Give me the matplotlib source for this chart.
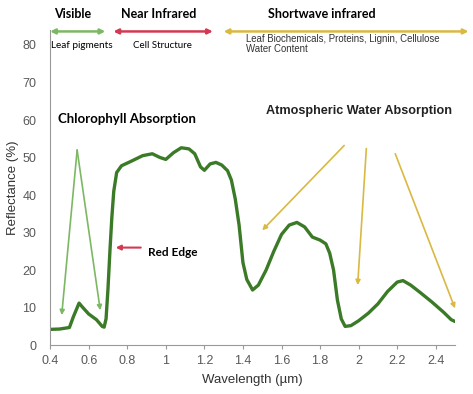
import numpy as np
import matplotlib
matplotlib.use('Agg')
import matplotlib.pyplot as plt

# vegetation reflectance curve
wavelength = [0.40, 0.45, 0.50, 0.52, 0.55, 0.57, 0.60, 0.64, 0.67, 0.68, 0.69,
              0.70, 0.71, 0.72, 0.73, 0.745, 0.77, 0.82, 0.88, 0.93, 0.97, 1.00,
              1.04, 1.08, 1.12, 1.15, 1.18, 1.20, 1.23, 1.26, 1.29, 1.32, 1.34,
              1.36, 1.38, 1.40, 1.42, 1.45, 1.48, 1.52, 1.56, 1.60, 1.64, 1.68,
              1.72, 1.76, 1.80, 1.83, 1.85, 1.87, 1.89, 1.91, 1.93, 1.96, 2.00,
              2.05, 2.10, 2.15, 2.20, 2.23, 2.27, 2.32, 2.38, 2.44, 2.48, 2.50]
reflectance = [4.2, 4.3, 4.7, 7.5, 11.2, 10.0, 8.3, 6.8, 5.0, 4.8, 7.0,
               15.0, 25.0, 34.0, 41.0, 46.0, 47.8, 49.0, 50.5, 51.0, 50.0, 49.5,
               51.3, 52.6, 52.3, 51.0, 47.5, 46.6, 48.3, 48.7, 48.0, 46.5, 44.0,
               39.0, 32.0, 22.0, 17.5, 14.7, 16.0, 20.0, 25.0, 29.5, 32.0, 32.7,
               31.5, 28.8, 28.0, 27.0, 24.5, 20.0, 12.0, 7.0, 5.0, 5.2, 6.5,
               8.5, 11.0, 14.3, 16.8, 17.2, 16.0, 14.0, 11.5, 8.8, 6.8, 6.3]
xticks = [0.4, 0.6, 0.8, 1.0, 1.2, 1.4, 1.6, 1.8, 2.0, 2.2, 2.4]
xticklabels = ['0.4', '0.6', '0.8', '1', '1.2', '1.4', '1.6', '1.8', '2', '2.2', '2.4']
yticks = [0, 10, 20, 30, 40, 50, 60, 70, 80]

GREEN = '#3b7a26'
LGREEN = '#7cb863'
RED = '#d23a52'
YELLOW = '#d9b942'
GREY = '#595959'
cond = ['Lato', 'DejaVu Sans']
sans = ['Liberation Sans', 'DejaVu Sans']

fig = plt.figure(figsize=(4.73, 3.94), dpi=100)
ax = fig.add_axes([0.106, 0.124, 0.856, 0.80])

ax.plot(wavelength, reflectance, color=GREEN, lw=2.4, solid_capstyle='round')
ax.set_xlim(0.4, 2.5)
ax.set_ylim(0, 84)
ax.set_xticks(xticks)
ax.set_xticklabels(xticklabels, family=sans, fontsize=9, color=GREY)
ax.set_yticks(yticks)
ax.set_yticklabels([str(v) for v in yticks], family=sans, fontsize=9, color=GREY)
ax.tick_params(axis='y', length=0, pad=10)
ax.tick_params(axis='x', length=3, color='#999999', pad=4)
for s in ['top', 'right']:
    ax.spines[s].set_visible(False)
for s in ['left', 'bottom']:
    ax.spines[s].set_color('#999999')
ax.set_xlabel('Wavelength (\u00b5m)', family=sans, fontsize=9.5, color='#333333', labelpad=5)
ax.set_ylabel('Reflectance (%)', family=sans, fontsize=9.5, color='#333333', labelpad=2)

# top band
def band(x0, x1, col):
    ax.annotate('', xy=(x1, 83.6), xytext=(x0, 83.6), annotation_clip=False,
                arrowprops=dict(arrowstyle='<|-|>', color=col, lw=1.8,
                                mutation_scale=7, shrinkA=0, shrinkB=0))

band(0.40, 0.686, LGREEN)
band(0.728, 1.244, RED)
band(1.30, 2.57, YELLOW)
ax.text(0.515, 88.3, 'Visible', ha='center', va='center', family=cond, fontsize=9, weight='bold', clip_on=False)
ax.text(0.963, 88.3, 'Near Infrared', ha='center', va='center', family=cond, fontsize=9, weight='bold', clip_on=False)
ax.text(1.81, 88.3, 'Shortwave infrared', ha='center', va='center', family=cond, fontsize=9, weight='bold', clip_on=False)
ax.text(0.405, 79.8, 'Leaf pigments', ha='left', va='center', family=cond, fontsize=7.2, clip_on=False)
ax.text(0.983, 79.8, 'Cell Structure', ha='center', va='center', family=cond, fontsize=7)
ax.text(1.416, 83.0, 'Leaf Biochemicals, Proteins, Lignin, Cellulose\nWater Content', ha='left', va='top',
        family=sans, fontsize=6.9, color='#333333', linespacing=1.1)

# chlorophyll absorption
ax.text(0.44, 60.4, 'Chlorophyll Absorption', ha='left', va='center', family=cond, fontsize=9.5, weight='bold')
for tx, ty in [(0.46, 8.0), (0.66, 9.3)]:
    ax.annotate('', xy=(tx, ty), xytext=(0.54, 52.0),
                arrowprops=dict(arrowstyle='-|>', color=LGREEN, lw=1.2, mutation_scale=7,
                                shrinkA=0, shrinkB=0))

# red edge
ax.annotate('', xy=(0.74, 26.0), xytext=(0.87, 26.0),
            arrowprops=dict(arrowstyle='-|>', color=RED, lw=1.5, mutation_scale=7,
                            shrinkA=0, shrinkB=0))
ax.text(0.905, 24.8, 'Red Edge', ha='left', va='center', family=cond, fontsize=8.5, weight='bold')

# atmospheric water absorption
ax.text(2.004, 62.5, 'Atmospheric Water Absorption', ha='center', va='center', family=sans,
        fontsize=9.1, weight='bold', color='#222222')
for (x0, y0), (x1, y1) in [((1.925, 53.2), (1.50, 30.6)),
                           ((2.04, 52.4), (1.995, 16.0)),
                           ((2.19, 51.0), (2.50, 9.8))]:
    ax.annotate('', xy=(x1, y1), xytext=(x0, y0), annotation_clip=False,
                arrowprops=dict(arrowstyle='-|>', color=YELLOW, lw=1.2, mutation_scale=7,
                                shrinkA=0, shrinkB=0))

fig.savefig('out.png', dpi=100)
